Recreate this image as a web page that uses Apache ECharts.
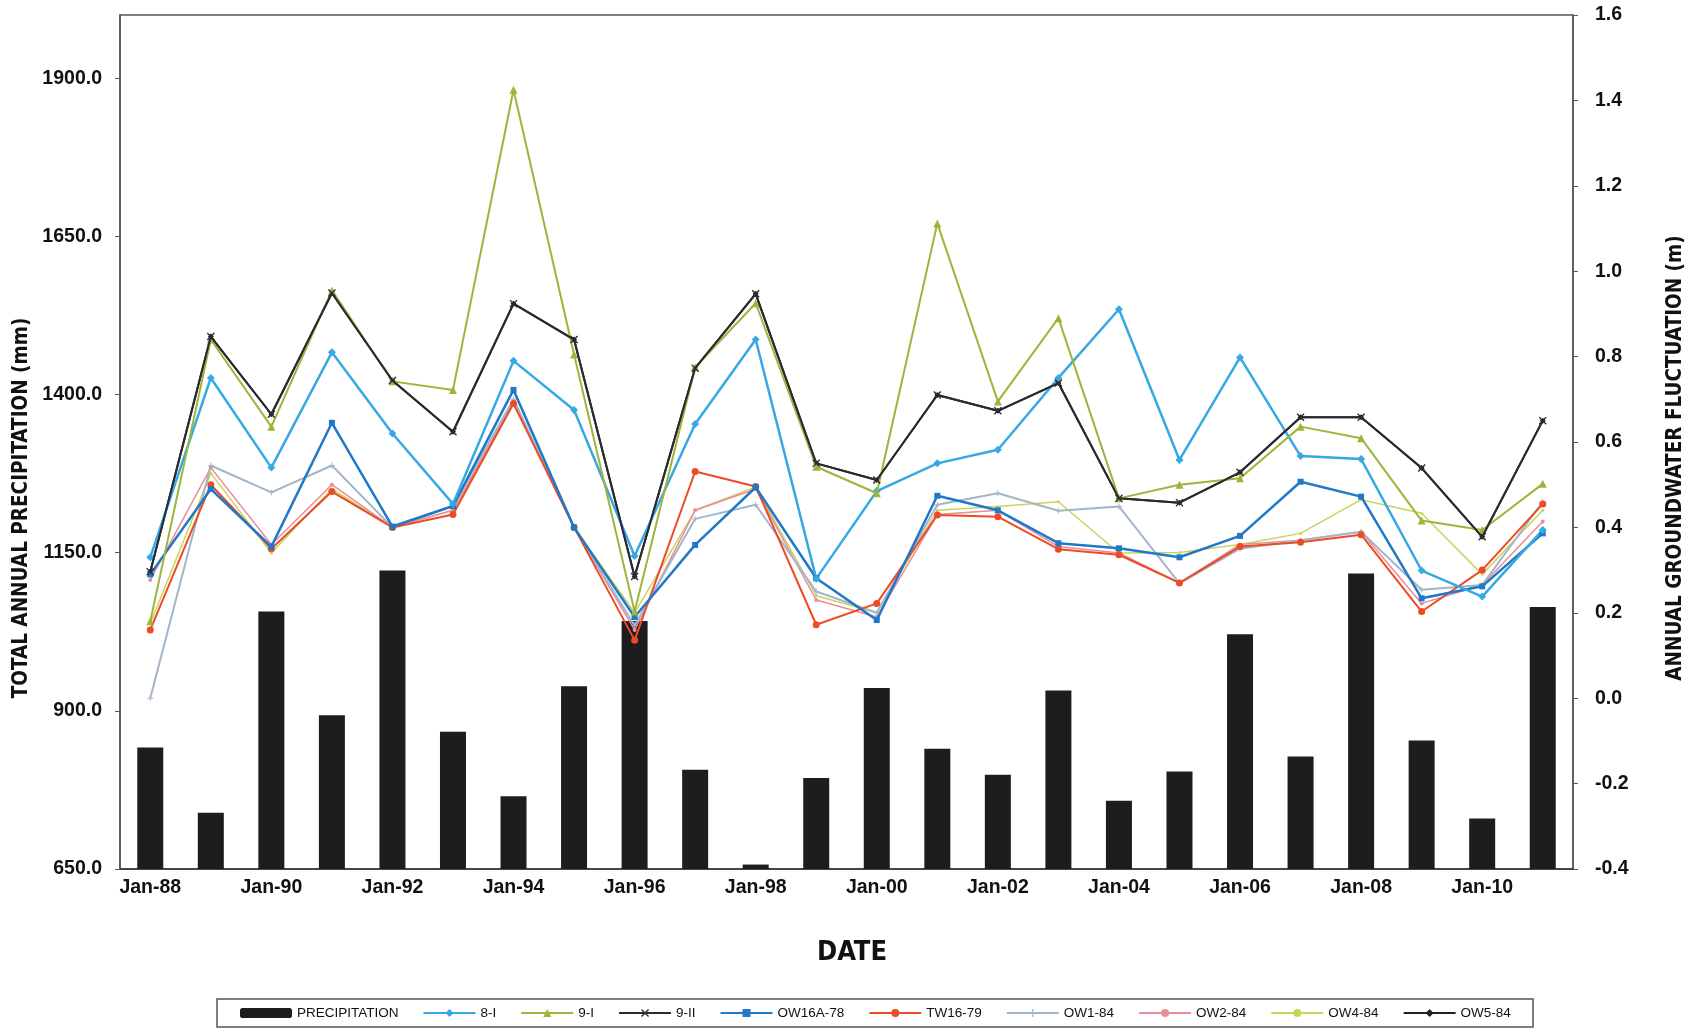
<!DOCTYPE html>
<html>
<head>
<meta charset="utf-8">
<script src="https://cdn.jsdelivr.net/npm/echarts@6/dist/echarts.min.js"></script>
<style>
html,body{margin:0;padding:0;background:#fff;}
#chart{width:1701px;height:1030px;}
</style>
</head>
<body>
<div id="chart"></div>
<script>
// ---- data ----
const years = ['Jan-88','Jan-89','Jan-90','Jan-91','Jan-92','Jan-93','Jan-94','Jan-95','Jan-96','Jan-97','Jan-98','Jan-99',
               'Jan-00','Jan-01','Jan-02','Jan-03','Jan-04','Jan-05','Jan-06','Jan-07','Jan-08','Jan-09','Jan-10','Jan-11'];
const leftTicks = [650, 900, 1150, 1400, 1650, 1900];
const precipitation = [842, 739, 1057, 893, 1122, 867, 765, 939, 1042, 807, 657, 794, 936, 840, 799, 932, 758, 804, 1021, 828, 1117, 853, 730, 1064];
const w8I    = [0.33, 0.75, 0.54, 0.81, 0.62, 0.455, 0.79, 0.675, 0.333, 0.642, 0.84, 0.28, 0.485, 0.55, 0.582, 0.75, 0.911, 0.558, 0.798, 0.567, 0.56, 0.299, 0.238, 0.394];
const w9I    = [0.18, 0.84, 0.636, 0.955, 0.742, 0.722, 1.425, 0.805, 0.203, 0.775, 0.925, 0.542, 0.48, 1.112, 0.695, 0.89, 0.468, 0.50, 0.515, 0.636, 0.609, 0.416, 0.394, 0.502];
const w9II   = [0.296, 0.847, 0.665, 0.949, 0.744, 0.624, 0.924, 0.840, 0.285, 0.773, 0.947, 0.550, 0.511, 0.710, 0.673, 0.738, 0.468, 0.458, 0.529, 0.658, 0.658, 0.539, 0.378, 0.650];
const wOW16A = [0.29, 0.49, 0.355, 0.645, 0.402, 0.45, 0.722, 0.40, 0.19, 0.359, 0.494, 0.281, 0.183, 0.474, 0.44, 0.363, 0.351, 0.33, 0.38, 0.507, 0.472, 0.234, 0.262, 0.386];
const wTW16  = [0.16, 0.50, 0.35, 0.484, 0.40, 0.43, 0.69, 0.40, 0.136, 0.531, 0.496, 0.172, 0.222, 0.429, 0.425, 0.349, 0.336, 0.27, 0.355, 0.365, 0.383, 0.203, 0.30, 0.455];
const wOW1   = [0.0, 0.545, 0.482, 0.545, 0.40, 0.45, 0.70, 0.40, 0.17, 0.42, 0.453, 0.25, 0.20, 0.453, 0.48, 0.439, 0.449, 0.269, 0.35, 0.37, 0.39, 0.254, 0.265, 0.46];
const wOW2   = [0.277, 0.54, 0.36, 0.50, 0.40, 0.44, 0.695, 0.40, 0.16, 0.44, 0.49, 0.23, 0.19, 0.43, 0.44, 0.355, 0.34, 0.27, 0.36, 0.37, 0.39, 0.222, 0.265, 0.414];
const wOW4   = [0.175, 0.527, 0.34, 0.49, 0.40, 0.44, 0.69, 0.40, 0.20, 0.44, 0.495, 0.24, 0.20, 0.44, 0.449, 0.46, 0.34, 0.341, 0.36, 0.386, 0.465, 0.433, 0.29, 0.44];
const wOW5   = [0.296, 0.847, 0.665, 0.949, 0.744, 0.624, 0.924, 0.840, 0.285, 0.773, 0.947, 0.550, 0.511, 0.710, 0.673, 0.738, 0.468, 0.458, 0.529, 0.658, 0.658, 0.539, 0.378, 0.650];

// ---- styling ----
const TICK_FONT = "'Liberation Sans', Arial, sans-serif";
const NARROW = "'Liberation Sans Narrow', 'Arial Narrow', 'DejaVu Sans Condensed', 'Liberation Sans', sans-serif";
const X_SYM = 'path://M0,1.2L1.2,0L5,3.8L8.8,0L10,1.2L6.2,5L10,8.8L8.8,10L5,6.2L1.2,10L0,8.8L3.8,5Z';
const PLUS_SYM = 'path://M4.2,0H5.8V4.2H10V5.8H5.8V10H4.2V5.8H0V4.2H4.2Z';

function lineSeries(name, data, color, width, symbol, size, z) {
  return {
    name, type: 'line', yAxisIndex: 1, data,
    symbol, symbolSize: size, z: z,
    lineStyle: { color, width },
    itemStyle: { color },
    emphasis: { disabled: true },
    animation: false
  };
}

const chart = echarts.init(document.getElementById('chart'), null, { renderer: 'canvas' });
chart.setOption({
  backgroundColor: '#ffffff',
  animation: false,
  grid: { left: 120, right: 128, top: 15, bottom: 161, show: true, borderColor: '#555', borderWidth: 1.5, backgroundColor: 'transparent' },
  xAxis: {
    type: 'category', data: years, boundaryGap: true,
    axisLine: { onZero: false, lineStyle: { color: '#333', width: 1.5 } },
    axisTick: { interval: 1, length: 4, lineStyle: { color: '#777' } },
    axisLabel: { interval: 1, margin: 9, color: '#111', fontFamily: TICK_FONT, fontWeight: 'bold', fontSize: 19.5 }
  },
  yAxis: [
    {
      type: 'value', min: 650, max: 2000, position: 'left',
      splitLine: { show: false },
      axisLine: { show: true, onZero: false, lineStyle: { color: '#555', width: 1.5 } },
      axisTick: { show: true, length: 5, customValues: leftTicks, lineStyle: { color: '#555' } },
      axisLabel: { customValues: leftTicks, margin: 18, color: '#111', fontFamily: TICK_FONT, fontWeight: 'bold', fontSize: 19.5,
                   formatter: v => Number(v).toFixed(1) }
    },
    {
      type: 'value', min: -0.4, max: 1.6, interval: 0.2, position: 'right',
      splitLine: { show: false },
      axisLine: { show: true, onZero: false, lineStyle: { color: '#555', width: 1.5 } },
      axisTick: { show: true, length: 5, lineStyle: { color: '#555' } },
      axisLabel: { margin: 22, color: '#111', fontFamily: TICK_FONT, fontWeight: 'bold', fontSize: 19.5,
                   formatter: v => (Math.abs(v) < 1e-9 ? 0 : v).toFixed(1) }
    }
  ],
  legend: {
    left: 240, top: 1006, itemGap: 24, itemWidth: 52, itemHeight: 10,
    padding: 0,
    textStyle: { fontFamily: TICK_FONT, fontSize: 13.5, color: '#111' },
    data: ['PRECIPITATION', '8-I', '9-I', '9-II', 'OW16A-78', 'TW16-79', 'OW1-84', 'OW2-84', 'OW4-84', 'OW5-84']
  },
  graphic: [
    { type: 'rect', shape: { x: 217, y: 999, width: 1316, height: 28 }, style: { fill: 'none', stroke: '#555', lineWidth: 1.5 }, z: 100 },
    { type: 'text', x: 22, y: 508, rotation: Math.PI / 2,
      style: { text: 'TOTAL ANNUAL PRECIPITATION (mm)', font: "bold 20.5px " + NARROW, fill: '#111', align: 'center', verticalAlign: 'middle' } },
    { type: 'text', x: 1676, y: 458, rotation: Math.PI / 2,
      style: { text: 'ANNUAL GROUNDWATER FLUCTUATION (m)', font: "bold 20.5px " + NARROW, fill: '#111', align: 'center', verticalAlign: 'middle' } },
    { type: 'text', x: 852, y: 953,
      style: { text: 'DATE', font: "bold 27px " + NARROW, fill: '#111', align: 'center', verticalAlign: 'middle' } }
  ],
  series: [
    { name: 'PRECIPITATION', type: 'bar', yAxisIndex: 0, data: precipitation, barWidth: 26,
      itemStyle: { color: '#1d1d20' }, emphasis: { disabled: true }, z: 1 },
    lineSeries('OW5-84', wOW5, '#222222', 2, 'diamond', 6, 2),
    lineSeries('OW4-84', wOW4, '#c9d45c', 1.5, 'circle', 3, 3),
    lineSeries('OW2-84', wOW2, '#e98c98', 1.5, 'circle', 4, 3),
    lineSeries('OW1-84', wOW1, '#a3b5c9', 2, PLUS_SYM, 6, 3),
    lineSeries('TW16-79', wTW16, '#ec4b26', 2, 'circle', 7, 4),
    lineSeries('OW16A-78', wOW16A, '#1f78c8', 2.5, 'rect', 6, 5),
    lineSeries('8-I', w8I, '#36a9e4', 2.5, 'diamond', 8, 5),
    lineSeries('9-I', w9I, '#9db53a', 2, 'triangle', 8, 6),
    lineSeries('9-II', w9II, '#2a2a33', 2, X_SYM, 8, 7)
  ]
});
</script>
</body>
</html>
